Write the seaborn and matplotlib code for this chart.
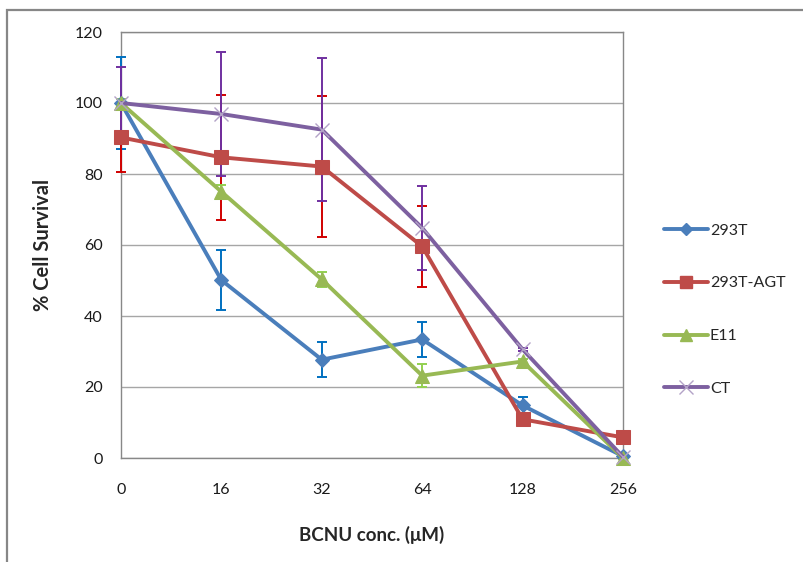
import numpy as np
import pandas as pd
import matplotlib
matplotlib.use("Agg")
import matplotlib.pyplot as plt
from matplotlib.patches import Rectangle
from matplotlib.lines import Line2D
import seaborn as sns

# BCNU concentrations (uM), plotted as evenly spaced categories
concentrations = ["0", "16", "32", "64", "128", "256"]

series_names = ["293T", "293T-AGT", "E11", "CT"]

# mean % cell survival per concentration
survival_293t = [100.0, 50.1, 27.7, 33.4, 14.8, 0.5]
survival_293t_agt = [90.3, 84.7, 82.1, 59.6, 10.9, 5.8]
survival_e11 = [100.0, 75.0, 50.3, 23.2, 27.2, 0.0]
survival_ct = [100.0, 96.9, 92.5, 64.8, 30.6, 0.3]

# standard deviation for each point
err_293t = [13.0, 8.5, 4.9, 4.9, 2.5, 0.5]
err_293t_agt = [9.8, 17.6, 19.8, 11.3, 0.8, 0.6]
err_e11 = [1.0, 1.8, 2.2, 3.2, 0.8, 0.3]
err_ct = [10.2, 17.6, 20.2, 11.8, 0.5, 0.3]

y_ticks = [0, 20, 40, 60, 80, 100, 120]

line_colors = ["#4A7EBB", "#BE4B48", "#98B954", "#7D60A0"]
bar_colors = ["#0070C0", "#D00000", "#92D050", "#7030A0"]
marker_styles = ["D", "s", "^", "x"]
marker_sizes = [7, 9.5, 10, 10]

means = [survival_293t, survival_293t_agt, survival_e11, survival_ct]
errors = [err_293t, err_293t_agt, err_e11, err_ct]

frames = []
for name, m, e in zip(series_names, means, errors):
    frames.append(pd.DataFrame({
        "position": np.arange(len(concentrations)),
        "concentration": concentrations,
        "survival": m,
        "err": e,
        "line": name,
    }))
data = pd.concat(frames, ignore_index=True)

sns.set_style("white")
plt.rcParams["font.family"] = ["Lato", "DejaVu Sans"]

fig = plt.figure(figsize=(8.04, 5.62), dpi=100)
ax = fig.add_axes([121 / 804, 1 - 458 / 562, (623 - 121) / 804, (458 - 32) / 562])

# outer chart frame
fig.patches.append(Rectangle((7 / 804, -0.05), 1.2, 1 - 10 / 562 + 0.05,
                             transform=fig.transFigure, fill=False,
                             edgecolor="#878787", linewidth=1.6, zorder=0))

# error bars sit beneath the series lines and markers
for name, bc in zip(series_names, bar_colors):
    sub = data[data["line"] == name]
    eb = ax.errorbar(sub["position"], sub["survival"], yerr=sub["err"],
                     fmt="none", ecolor=bc, elinewidth=1.4, capsize=3.5,
                     capthick=1.4, zorder=2)
    for artist in eb.lines[1] + eb.lines[2]:
        artist.set_clip_on(False)

for i, (name, lc, mk, ms) in enumerate(zip(series_names, line_colors,
                                            marker_styles, marker_sizes)):
    sub = data[data["line"] == name]
    if mk == "x":
        sns.lineplot(data=sub, x="position", y="survival", ax=ax, color=lc,
                     linewidth=2.8, marker="x", markersize=ms,
                     markeredgecolor="#B3A2C7", markeredgewidth=1.0,
                     errorbar=None, zorder=3 + i, legend=False, clip_on=False)
    else:
        sns.lineplot(data=sub, x="position", y="survival", ax=ax, color=lc,
                     linewidth=2.8, marker=mk, markersize=ms,
                     markeredgecolor=lc, markerfacecolor=lc,
                     errorbar=None, zorder=3 + i, legend=False, clip_on=False)

ax.set_xlim(0, len(concentrations) - 1)
ax.set_ylim(0, 120)
ax.set_xticks(np.arange(len(concentrations)))
ax.set_xticklabels(concentrations)
ax.set_yticks(y_ticks)
ax.grid(axis="y", color="#A6A6A6", linewidth=1.0)
ax.grid(axis="x", visible=False)
ax.set_axisbelow(True)
for s in ax.spines.values():
    s.set_color("#888888")
    s.set_linewidth(1.0)
    s.set_visible(True)
    s.set_zorder(1)
ax.tick_params(axis="both", direction="out", length=5, width=1.0,
               color="#888888", labelsize=11.5, labelcolor="#1a1a1a")
ax.tick_params(axis="x", pad=13)
ax.tick_params(axis="y", pad=8)

ax.set_xlabel("BCNU conc. (\u03bcM)", fontsize=13.5, fontweight="bold",
              labelpad=21)
ax.set_ylabel("% Cell Survival", fontsize=14.5, fontweight="bold",
              labelpad=16)

handles = []
for lc, mk, ms in zip(line_colors, marker_styles, marker_sizes):
    if mk == "x":
        handles.append(Line2D([], [], color=lc, linewidth=2.8, marker="x",
                              markersize=ms, markeredgecolor="#B3A2C7",
                              markeredgewidth=1.0))
    else:
        handles.append(Line2D([], [], color=lc, linewidth=2.8, marker=mk,
                              markersize=ms * 0.85, markeredgecolor=lc,
                              markerfacecolor=lc))
fig.legend(handles, series_names, loc="upper left",
           bbox_to_anchor=(658 / 804, 1 - 217 / 562), frameon=False,
           fontsize=11.5, labelspacing=2.42, handlelength=2.7,
           handletextpad=0.15, borderaxespad=0)

fig.savefig("out.png", dpi=100)
